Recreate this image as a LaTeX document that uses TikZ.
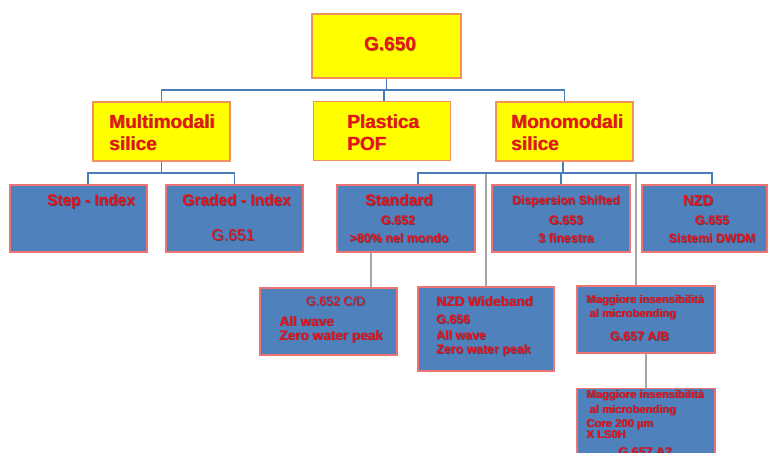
\documentclass[tikz,border=0pt]{standalone}
\usepackage{fontspec}
\setmainfont{Liberation Sans}
\definecolor{boxyellow}{HTML}{FFFF00}
\definecolor{yellowedge}{HTML}{F2905E}
\definecolor{boxblue}{HTML}{4F81BD}
\definecolor{blueedge}{HTML}{EE7474}
\definecolor{labelred}{HTML}{E8121A}
\definecolor{labelshade}{HTML}{5A1010}
\definecolor{treeline}{HTML}{4A7EBB}
\definecolor{linkgray}{HTML}{A6A6A6}
\newcommand{\fs}[1]{\fontsize{#1}{#1}\selectfont}
\tikzset{
  ybox/.style={draw=yellowedge, fill=boxyellow, line width=1.4pt, inner sep=0pt},
  bbox/.style={draw=blueedge, fill=boxblue, line width=1.3pt, inner sep=0pt},
  txt/.style={text=labelred, inner sep=0pt, font=\bfseries},
  tree/.style={draw=treeline, line width=1.5pt},
  link/.style={draw=linkgray, line width=2pt},
}
% label with a soft dark drop shadow: options, name, position, text
\newcommand{\lbl}[4]{%
  \node[txt, #1, text=labelshade, text opacity=0.55] (#2-sh) at ([shift={(0.8,0.8)}]#3) {#4};%
  \node[txt, #1] (#2) at (#3) {#4};}
\begin{document}
\begin{tikzpicture}[x=1pt, y=-1pt]
\useasboundingbox (0,0) rectangle (770,452);
\clip (0,0) rectangle (770,452);

% bus levels of the tree
\coordinate (busTop) at (0,90);
\coordinate (busMulti) at (0,173);
\coordinate (busMono) at (0,173);

% ---- boxes
\node[ybox, minimum width=149pt, minimum height=64pt] (g650) at (386.5,46) {};
\node[ybox, minimum width=137pt, minimum height=59pt] (multi) at (161.5,131.5) {};
\node[ybox, minimum width=137pt, minimum height=59pt] (pla) at (382,131) {};
\node[ybox, minimum width=137pt, minimum height=59pt] (mono) at (564.5,131.5) {};

\node[bbox, minimum width=137pt, minimum height=67pt] (step) at (78.5,218.5) {};
\node[bbox, minimum width=137pt, minimum height=67pt] (graded) at (234.5,218.5) {};
\node[bbox, minimum width=138pt, minimum height=67pt] (std) at (406,218.5) {};
\node[bbox, minimum width=138pt, minimum height=67pt] (disp) at (561,218.5) {};
\node[bbox, minimum width=125pt, minimum height=67pt] (nzd) at (704.5,218.5) {};

\node[bbox, minimum width=137pt, minimum height=67pt] (gcd) at (328.5,321.5) {};
\node[bbox, minimum width=136pt, minimum height=84pt] (wide) at (486,329) {};
\node[bbox, minimum width=138pt, minimum height=67pt] (gab) at (646,319.5) {};
\node[bbox, minimum width=138pt, minimum height=90pt, anchor=north] (ga2) at (646,388) {};

% ---- tree connectors
\path[tree] (g650.south) -- (g650.south |- busTop);
\path[tree] (multi.north) -- (multi.north |- busTop) -- (mono.north |- busTop) -- (mono.north);
\path[tree] ([xshift=2pt]pla.north) -- ([xshift=2pt]pla.north |- busTop);

\path[tree] (multi.south) -- (multi.south |- busMulti);
\path[tree] ([xshift=9.5pt]step.north) -- ([xshift=9.5pt]step.north |- busMulti)
            -- (graded.north |- busMulti) -- (graded.north);

\path[tree] ([xshift=-1.5pt]mono.south) -- ([xshift=-1.5pt]mono.south |- busMono);
\path[tree] ([xshift=12pt]std.north) -- ([xshift=12pt]std.north |- busMono)
            -- ([xshift=7.5pt]nzd.north |- busMono) -- ([xshift=7.5pt]nzd.north);
\path[tree] (disp.north |- busMono) -- (disp.north);

% ---- grey links to the lower level
\path[link] ([xshift=-35pt]std.south) -- ([xshift=-35pt]std.south |- gcd.north);
\path[link] ([yshift=-1pt]wide.north |- busMono) -- (wide.north);
\path[link] ([xshift=-10pt,yshift=-1pt]gab.north |- busMono) -- ([xshift=-10pt]gab.north);
\path[link] (gab.south) -- (ga2.north);

% ---- labels (multi-line labels are placed by their last baseline)
\lbl{anchor=base, font=\bfseries\fs{19}}{t650}{390,50.5}{G.650}

\lbl{anchor=base west, align=left, font=\bfseries\fs{19}}{tmulti}{109,150}
  {Multimodali\\[3pt]silice}
\lbl{anchor=base west, align=left, font=\bfseries\fs{19}}{tpla}{347,150}
  {Plastica\\[3pt]POF}
\lbl{anchor=base west, align=left, font=\bfseries\fs{19}}{tmono}{511,150}
  {Monomodali\\[3pt]silice}

\lbl{anchor=base, font=\bfseries\fs{15.5}}{tstep}{91,205.6}{Step - Index}
\lbl{anchor=base, font=\bfseries\fs{15.5}}{tgraded}{236.5,205.6}{Graded - Index}
\lbl{anchor=base, font=\normalfont\fs{15.8}}{tgsix}{233,240.6}{G.651}

\lbl{anchor=base, font=\bfseries\fs{15.6}}{tstd}{399,205.6}{Standard}
\lbl{anchor=base, font=\bfseries\fs{12.5}}{tgstd}{398,224.5}{G.652}
\lbl{anchor=base, font=\bfseries\fs{12.5}}{tmondo}{399,242.5}{>80\% nel mondo}

\lbl{anchor=base, font=\bfseries\fs{12.2}}{tdisp}{566,204.4}{Dispersion Shifted}
\lbl{anchor=base, font=\bfseries\fs{12.5}}{tgdisp}{566,224.5}{G.653}
\lbl{anchor=base, font=\bfseries\fs{12.5}}{tfin}{566,242.5}{3 finestra}

\lbl{anchor=base, font=\bfseries\fs{14.6}}{tnzd}{698,205.2}{NZD}
\lbl{anchor=base, font=\bfseries\fs{12.5}}{tgnzd}{712,224.5}{G.655}
\lbl{anchor=base, font=\bfseries\fs{12.3}}{tdwdm}{712,242.5}{Sistemi DWDM}

\lbl{anchor=base, font=\normalfont\fs{12.5}}{tgcd}{335.5,305.5}{G.652 C/D}
\lbl{anchor=base west, align=left, font=\bfseries\fs{13.6}}{tgcdl}{279,340}
  {All wave\\[0.4pt]Zero water peak}

\lbl{anchor=base west, font=\bfseries\fs{13.6}}{twide}{436,306}{NZD Wideband}
\lbl{anchor=base west, align=left, font=\bfseries\fs{12.4}}{twidel}{436,353.5}
  {G.656\\[3.5pt]All wave\\[1.5pt]Zero water peak}

\lbl{anchor=base west, align=left, font=\bfseries\fs{11.2}}{tgab}{586,317}
  {Maggiore insensibilità\\[2.8pt]\ al microbending}
\lbl{anchor=base, font=\bfseries\fs{12.5}}{tgabc}{639.5,340.5}{G.657 A/B}

\lbl{anchor=base west, align=left, font=\bfseries\fs{11.2}}{ta2}{586,438}
  {Maggiore insensibilità\\[3.8pt]\ al microbending\\[2.8pt]Core 200 µm\\[-0.2pt]X LS0H}
\lbl{anchor=base west, font=\bfseries\fs{12.5}}{ta2c}{618,456}{G.657 A2}
\end{tikzpicture}
\end{document}
